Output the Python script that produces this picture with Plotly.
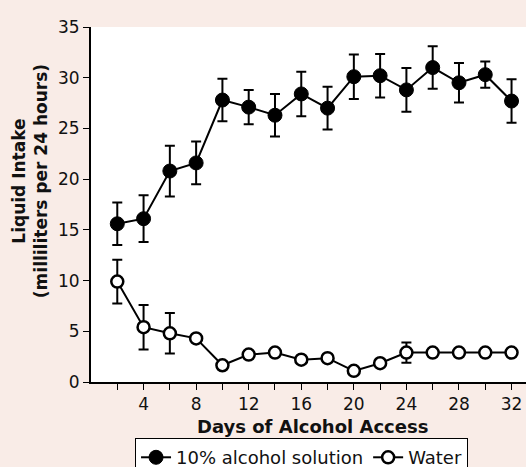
import plotly.graph_objects as go

days = [2, 4, 6, 8, 10, 12, 14, 16, 18, 20, 22, 24, 26, 28, 30, 32]
alcohol = [15.6, 16.1, 20.8, 21.6, 27.8, 27.1, 26.3, 28.4, 27.0, 30.1, 30.2, 28.8, 31.0, 29.5, 30.3, 27.7]
alcohol_err = [2.1, 2.3, 2.5, 2.1, 2.1, 1.7, 2.1, 2.2, 2.1, 2.2, 2.15, 2.15, 2.1, 1.95, 1.3, 2.15]
water = [9.9, 5.4, 4.8, 4.3, 1.65, 2.7, 2.9, 2.2, 2.35, 1.1, 1.85, 2.9, 2.9, 2.9, 2.9, 2.9]
water_err = [2.15, 2.2, 2.0, None, None, None, None, None, None, None, None, 1.0, None, None, None, None]
xticks = [4, 8, 12, 16, 20, 24, 28, 32]
xminor = [2, 6, 10, 14, 18, 22, 26, 30]
yticks = [0, 5, 10, 15, 20, 25, 30, 35]

font = "DejaVu Sans, Arial, sans-serif"
ink = "#111"
bg = "#f9ece7"

fig = go.Figure()
fig.add_trace(go.Scatter(
    x=days, y=alcohol, name="10% alcohol solution", mode="lines+markers",
    line=dict(color="black", width=2),
    marker=dict(symbol="circle", size=14, color="black", line=dict(color="black", width=1)),
    error_y=dict(type="data", array=alcohol_err, visible=True, color="black", thickness=2, width=5),
    cliponaxis=False,
))
fig.add_trace(go.Scatter(
    x=days, y=water, name="Water", mode="lines+markers",
    line=dict(color="black", width=2),
    marker=dict(symbol="circle", size=12, color="white", line=dict(color="black", width=2.5)),
    error_y=dict(type="data", array=water_err, visible=True, color="black", thickness=2, width=5),
    cliponaxis=False,
))

fig.update_layout(
    width=526, height=467,
    margin=dict(l=91, r=0, t=27, b=85, autoexpand=False),
    paper_bgcolor=bg,
    plot_bgcolor="white",
    font=dict(family=font, size=17, color=ink),
    showlegend=True,
    legend=dict(
        orientation="h", x=0.484, xanchor="center", y=-0.158, yanchor="top",
        bgcolor="white", bordercolor="black", borderwidth=1,
        font=dict(size=18, family=font, color=ink),
        itemwidth=30, tracegroupgap=0,
    ),
    xaxis=dict(
        range=[0, 33.1], tickvals=xticks, ticks="outside", ticklen=6, tickwidth=1,
        tickcolor="black", showline=True, linecolor="black", linewidth=2,
        showgrid=False, zeroline=False, automargin=False,
        tickfont=dict(size=17),
        minor=dict(tickvals=xminor, ticks="outside", ticklen=6, tickwidth=1, tickcolor="black", showgrid=False),
    ),
    yaxis=dict(
        range=[0, 35], tickvals=yticks, ticks="outside", ticklen=6, tickwidth=1,
        tickcolor="black", showline=True, linecolor="black", linewidth=2,
        showgrid=False, zeroline=False, automargin=False, tickfont=dict(size=17),
    ),
    annotations=[
        dict(
            text="<b>Liquid Intake<br>(milliliters per 24 hours)</b>",
            textangle=-90, xref="paper", yref="paper", x=-0.14, y=0.566,
            xanchor="center", yanchor="middle", showarrow=False,
            font=dict(size=17, family=font, color=ink),
        ),
        dict(
            text="<b>Days of Alcohol Access</b>",
            xref="paper", yref="paper", x=0.51, y=-0.124,
            xanchor="center", yanchor="middle", showarrow=False,
            font=dict(size=18, family=font, color=ink),
        ),
    ],
)

fig.write_html(
    "out.html",
    config={"displayModeBar": False},
    post_script="document.body.style.margin='0';document.body.style.background='" + bg + "';",
)
